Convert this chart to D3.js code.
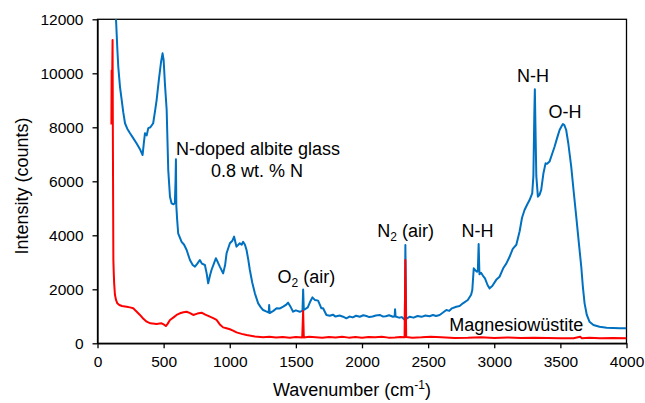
<!DOCTYPE html>
<html>
<head>
<meta charset="utf-8">
<script src="https://cdn.jsdelivr.net/npm/d3@7"></script>
<style>
  body { margin: 0; background: #fff; }
  svg { font-family: Arial, 'Liberation Sans', sans-serif; }
  .tick text { font-size: 15.5px; fill: #000; }
  .domain, .tick line { stroke: #000; stroke-width: 1.3px; }
  .label { font-size: 18px; fill: #000; }
</style>
</head>
<body>
<svg id="chart" width="645" height="403"></svg>
<script>
// N-doped albite glass spectrum, [wavenumber, counts]
const glassSpectrum = [
  [125, 13500], [140, 12000], [150, 10900], [157, 10250], [170, 9500], [183, 9010],
  [195, 8550], [208, 8150], [225, 7950], [246, 7780], [270, 7600], [296, 7400],
  [320, 7200], [341, 6975], [350, 7400], [359, 7780], [372, 7700], [384, 7970],
  [400, 8000], [421, 8150], [435, 8600], [447, 9010], [465, 9800], [480, 10400],
  [492, 10740], [500, 10500], [510, 9600], [523, 8640], [535, 6415], [548, 5430],
  [560, 5185], [575, 5150], [585, 5185], [590, 6000], [593, 6815], [596, 5100],
  [602, 4600], [610, 4075], [636, 3760], [655, 3650], [674, 3455], [699, 3085],
  [720, 2900], [737, 2840], [755, 2950], [774, 3085], [790, 2950], [812, 2900],
  [825, 2600], [837, 2220], [850, 2500], [862, 2715], [880, 2950], [895, 3150],
  [910, 3000], [925, 2840], [950, 2590], [965, 2900], [976, 3335], [1001, 3705],
  [1020, 3800], [1033, 3950], [1045, 3700], [1051, 3580], [1076, 3705], [1090, 3650],
  [1101, 3760], [1115, 3650], [1127, 3455], [1140, 3100], [1152, 2715], [1170, 2250],
  [1190, 1850], [1215, 1480], [1235, 1330], [1252, 1233], [1275, 1180], [1295, 1140],
  [1298, 1420], [1302, 1120], [1330, 1200], [1354, 1295], [1380, 1290], [1404, 1355],
  [1425, 1420], [1441, 1505], [1460, 1350], [1479, 1170], [1500, 1220], [1530, 1170],
  [1550, 1200], [1555, 1990], [1560, 1233], [1590, 1330], [1610, 1560], [1625, 1700],
  [1645, 1600], [1668, 1580], [1693, 1295], [1706, 1300], [1731, 1050], [1756, 1020],
  [1780, 1060], [1800, 990], [1830, 1030], [1857, 985], [1882, 925], [1905, 990],
  [1930, 960], [1955, 1020], [1983, 985], [2010, 1040], [2033, 1010], [2055, 970],
  [2080, 990], [2105, 1030], [2134, 1050], [2160, 990], [2180, 1000], [2205, 1040],
  [2234, 985], [2247, 1000], [2250, 1260], [2254, 990], [2280, 950], [2300, 970],
  [2310, 925], [2324, 860], [2328, 3640], [2334, 900], [2361, 985], [2390, 950],
  [2420, 1010], [2450, 980], [2480, 1030], [2510, 1000], [2537, 1050], [2560, 1010],
  [2587, 1050], [2610, 1130], [2638, 1233], [2660, 1200], [2680, 1295], [2713, 1355],
  [2738, 1380], [2763, 1480], [2800, 1605], [2825, 1800],
  [2834, 1975], [2845, 2778], [2858, 2700], [2870, 2650], [2876, 2700], [2882, 3680],
  [2888, 2560], [2900, 2615], [2915, 2500], [2930, 2405], [2950, 2150], [2965, 2035],
  [2985, 2120], [3015, 2350], [3040, 2465], [3070, 2800], [3091, 2950], [3116, 3205],
  [3140, 3500], [3167, 3650], [3192, 4150], [3210, 4650], [3229, 4935], [3250, 5150],
  [3267, 5305], [3287, 5555], [3296, 6200], [3303, 8500], [3307, 9410], [3311, 8200],
  [3318, 6200], [3330, 5430], [3342, 5500], [3355, 5680], [3372, 6300], [3388, 6665],
  [3400, 6650], [3418, 6730], [3440, 7050], [3456, 7280], [3475, 7600], [3494, 7900],
  [3510, 8050], [3519, 8120], [3530, 8080], [3544, 7900], [3560, 7400], [3582, 6540],
  [3600, 5650], [3620, 4690], [3640, 3700], [3658, 2835], [3670, 2100], [3683, 1480],
  [3700, 1050], [3720, 800], [3750, 680], [3796, 615], [3850, 580], [3900, 570],
  [3950, 560], [3990, 555], [4000, 555],
];

// Magnesiowustite spectrum, [wavenumber, counts]
const mwSpectrum = [
  [105, 8100], [107, 10100], [109, 8500], [111, 9800], [114, 11230], [116, 8000],
  [118, 5440], [120, 3085], [123, 2600], [126, 2220], [132, 1800], [140, 1605],
  [150, 1480], [165, 1420], [185, 1380], [220, 1355], [245, 1330], [270, 1295],
  [295, 1180], [321, 1050], [345, 920], [372, 800], [400, 740], [447, 715],
  [470, 730], [485, 740], [500, 700], [517, 640], [530, 720], [548, 865],
  [575, 960], [598, 1050], [623, 1110], [650, 1150], [674, 1170], [700, 1120],
  [724, 1050], [755, 1100], [787, 1135], [815, 1060], [850, 985], [875, 930],
  [900, 865], [925, 700], [950, 590], [975, 560], [1001, 520], [1025, 470],
  [1051, 405], [1090, 350], [1127, 305], [1190, 250], [1252, 220], [1300, 240],
  [1350, 215], [1400, 235], [1454, 210], [1500, 230], [1548, 215], [1555, 1200],
  [1560, 215], [1600, 240], [1650, 225], [1700, 205], [1750, 235], [1800, 215],
  [1850, 240], [1900, 210], [1950, 230], [2000, 205], [2050, 235], [2100, 220],
  [2150, 240], [2200, 210], [2250, 215], [2290, 235], [2322, 220], [2328, 3085],
  [2334, 230], [2380, 210], [2450, 220], [2520, 240], [2600, 225], [2700, 200],
  [2800, 205], [2900, 225], [3000, 200], [3100, 215], [3200, 195], [3300, 210],
  [3400, 200], [3500, 185], [3600, 190], [3650, 245], [3660, 190], [3720, 205],
  [3800, 185], [3900, 195], [4000, 185],
];

const xTicks = [0, 500, 1000, 1500, 2000, 2500, 3000, 3500, 4000];
const yTicks = [0, 2000, 4000, 6000, 8000, 10000, 12000];

const plotLeft = 97.5, plotRight = 626.5, plotTop = 19.3, plotBottom = 343.3;

const x = d3.scaleLinear().domain([0, 4000]).range([plotLeft, plotRight]);
const y = d3.scaleLinear().domain([0, 12000]).range([plotBottom, plotTop]);

const svg = d3.select('#chart');

svg.append('clipPath')
  .attr('id', 'plot-clip')
  .append('rect')
  .attr('x', plotLeft)
  .attr('y', plotTop)
  .attr('width', plotRight - plotLeft)
  .attr('height', plotBottom - plotTop);

// frame round the plot
svg.append('rect')
  .attr('x', plotLeft)
  .attr('y', plotTop)
  .attr('width', plotRight - plotLeft)
  .attr('height', plotBottom - plotTop)
  .attr('fill', 'none')
  .attr('stroke', '#000')
  .attr('stroke-width', 1.3);

const line = d3.line()
  .x((d) => x(d[0]))
  .y((d) => y(d[1]));

const plot = svg.append('g').attr('clip-path', 'url(#plot-clip)');

plot.append('path')
  .datum(glassSpectrum)
  .attr('d', line)
  .attr('fill', 'none')
  .attr('stroke', '#0070C0')
  .attr('stroke-width', 2)
  .attr('stroke-linejoin', 'round');

plot.append('path')
  .datum(mwSpectrum)
  .attr('d', line)
  .attr('fill', 'none')
  .attr('stroke', '#FF0000')
  .attr('stroke-width', 2)
  .attr('stroke-linejoin', 'round');

// axes
svg.append('g')
  .attr('transform', `translate(0, ${plotBottom})`)
  .call(d3.axisBottom(x).tickValues(xTicks).tickSize(5).tickSizeOuter(0).tickPadding(8).tickFormat(d3.format('d')));

svg.append('g')
  .attr('transform', `translate(${plotLeft}, 0)`)
  .call(d3.axisLeft(y).tickValues(yTicks).tickSize(5).tickSizeOuter(0).tickPadding(9).tickFormat(d3.format('d')));

svg.selectAll('.tick text').attr('font-family', null).attr('font-size', null);

// axis titles
const xTitle = svg.append('text')
  .attr('class', 'label')
  .attr('x', 352)
  .attr('y', 396)
  .attr('text-anchor', 'middle');
xTitle.append('tspan').text('Wavenumber (cm');
xTitle.append('tspan').attr('font-size', 12).attr('dy', -7).text('-1');
xTitle.append('tspan').attr('dy', 7).text(')');

svg.append('text')
  .attr('class', 'label')
  .attr('transform', 'translate(28, 186) rotate(-90)')
  .attr('text-anchor', 'middle')
  .text('Intensity (counts)');

// annotations
const note = (wn, counts, txt, anchor) =>
  svg.append('text')
    .attr('class', 'label')
    .attr('x', x(wn))
    .attr('y', y(counts))
    .attr('text-anchor', anchor)
    .text(txt);

note(1214, 6974, 'N-doped albite glass', 'middle');
note(1206, 6170, '0.8 wt. % N', 'middle');
note(3293, 9678, 'N-H', 'middle');
note(3535, 8344, 'O-H', 'middle');
note(2873, 3948, 'N-H', 'middle');
note(2660, 467, 'Magnesiowüstite', 'start');

const withSub = (wn, counts, main, sub, rest) => {
  const t = svg.append('text')
    .attr('class', 'label')
    .attr('x', x(wn))
    .attr('y', y(counts));
  t.append('tspan').text(main);
  t.append('tspan').attr('font-size', 12).attr('dy', 4).text(sub);
  t.append('tspan').attr('dy', -4).text(rest);
};

withSub(1361, 2233, 'O', '2', ' (air)');
withSub(2116, 3948, 'N', '2', ' (air)');
</script>
</body>
</html>
